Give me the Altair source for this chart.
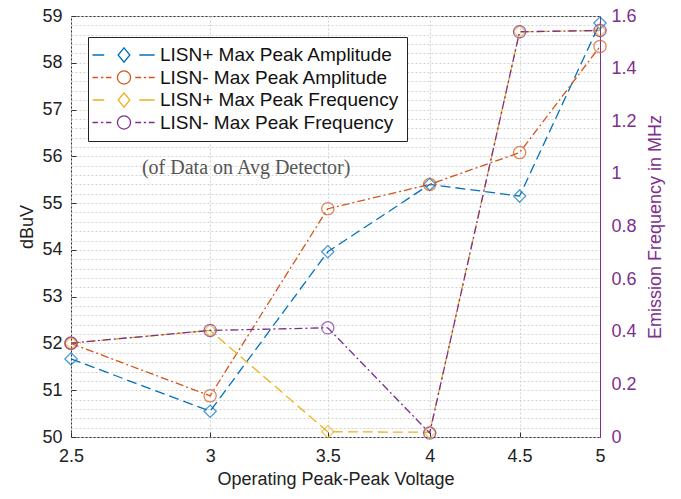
import altair as alt
import pandas as pd

# ---------------- data ----------------
voltage = [2.5, 3.0, 3.5, 4.0, 4.5, 5.0]
lisn_plus_amplitude = [51.67, 50.55, 53.96, 55.40, 55.15, 58.85]
lisn_minus_amplitude = [52.00, 50.88, 54.88, 55.40, 56.08, 58.35]
lisn_plus_frequency = [0.357, 0.405, 0.020, 0.018, 1.540, 1.545]
lisn_minus_frequency = [0.357, 0.405, 0.415, 0.015, 1.540, 1.545]

series_names = [
    "LISN+ Max Peak Amplitude",
    "LISN- Max Peak Amplitude",
    "LISN+ Max Peak Frequency",
    "LISN- Max Peak Frequency",
]
series_colors = ["#0072BD", "#D95319", "#EDB120", "#7E2F8E"]

# marker / dash styles (listed in their own order so these scales stay out of the legend)
shape_order = [series_names[1], series_names[0], series_names[3], series_names[2]]
shape_range = ["circle", "diamond", "circle", "diamond"]
dash_order = [series_names[2], series_names[3], series_names[0], series_names[1]]
dash_range = [[10, 5], [8, 3, 2, 3], [10, 5], [8, 3, 2, 3]]

x_ticks = [2.5, 3, 3.5, 4, 4.5, 5]
left_grid = [round(50 + 0.2 * i, 1) for i in range(46)]
right_ticks = [0, 0.2, 0.4, 0.6, 0.8, 1.0, 1.2, 1.4, 1.6]

annotation_text = ["(of Data on Avg Detector)"]
annotation_x = [3.145]
annotation_y = [55.75]

# ---------------- tables ----------------
amp_df = pd.DataFrame({
    "voltage": voltage * 2,
    "value": lisn_plus_amplitude + lisn_minus_amplitude,
    "series": [series_names[0]] * 6 + [series_names[1]] * 6,
})
freq_df = pd.DataFrame({
    "voltage": voltage * 2,
    "value": lisn_plus_frequency + lisn_minus_frequency,
    "series": [series_names[2]] * 6 + [series_names[3]] * 6,
})
ann_df = pd.DataFrame({"voltage": annotation_x, "value": annotation_y, "label": annotation_text})

GRID = "#d2d2d2"
PURPLE = "#7E2F8E"
INT_TEST = "abs(datum.value - round(datum.value)) < 0.001"

x_enc = alt.X(
    "voltage:Q",
    scale=alt.Scale(type="log", domain=[2.5, 5], nice=False),
    axis=alt.Axis(values=x_ticks, format="~g", title="Operating Peak-Peak Voltage",
                  grid=True, gridDash=[2, 2], gridColor=GRID, labelFlush=False,
                  offset=-5, ticks=True, tickSize=5, tickColor="#333", domain=False,
                  labelPadding=10, titlePadding=5),
)
y_left = alt.Y(
    "value:Q",
    scale=alt.Scale(domain=[50, 59], nice=False, zero=False),
    axis=alt.Axis(values=left_grid, format="~g",
                  labelExpr=INT_TEST + " ? datum.label : ''",
                  title="dBuV", grid=True, gridDash=[2, 2], gridColor=GRID,
                  offset=-5, ticks=True, tickSize=5, domain=False,
                  tickColor={"condition": {"test": INT_TEST, "value": "#333"},
                             "value": "transparent"},
                  labelPadding=9, titlePadding=5, labelOverlap=False),
)
y_right = alt.Y(
    "value:Q",
    scale=alt.Scale(domain=[0, 1.6], nice=False, zero=False),
    axis=alt.Axis(orient="right", values=right_ticks, format="~g",
                  title="Emission Frequency in MHz", titleAngle=270, titleBaseline="top",
                  grid=False, ticks=False, labelPadding=11, titlePadding=10,
                  labelColor=PURPLE, titleColor=PURPLE, domainColor=PURPLE),
)

# legend glyphs "- <> -" and "-.-O-.-" (path unit = 9 px with symbol size 324)
dash_leg = ("M-3.5,0L-2.2,0M1.7,0L3.4,0"
            "M0,-0.8L0.65,0L0,0.8L-0.65,0Z")
dashdot_leg = ("M-3.5,0L-2.9,0M-2.55,0L-2.3,0M-2.0,0L-1.4,0"
               "M0.73,0A0.73,0.73 0 1,1 -0.73,0A0.73,0.73 0 1,1 0.73,0"
               "M1.25,0L1.9,0M2.2,0L2.45,0M2.75,0L3.4,0")
shape_expr = "indexof(datum.value, '+') >= 0 ? '%s' : '%s'" % (dash_leg, dashdot_leg)

legend = alt.Legend(
    title=None, orient="none", legendX=17, legendY=21, direction="vertical",
    symbolType=alt.ExprRef(expr=shape_expr),
    symbolSize=324, symbolStrokeWidth=1.3, symbolFillColor="transparent", symbolOpacity=1,
    symbolOffset=18, labelOffset=26,
    labelFont="Liberation Sans", labelFontSize=19, labelColor="#111",
    labelLimit=400, rowPadding=2.5, padding=8,
    strokeColor="#222", fillColor="white",
)

color_scale = alt.Scale(domain=series_names, range=series_colors)
color_leg = alt.Color("series:N", scale=color_scale, legend=legend)
color_enc = alt.Color("series:N", scale=color_scale, legend=None)
dash_enc = alt.StrokeDash("series:N", scale=alt.Scale(domain=dash_order, range=dash_range),
                          legend=None)
shape_enc = alt.Shape("series:N", scale=alt.Scale(domain=shape_order, range=shape_range),
                      legend=None)

legend_layer = alt.Chart(amp_df).mark_point(opacity=0, filled=False).encode(
    x=x_enc, y=y_left, color=color_leg)
amp_lines = alt.Chart(amp_df).mark_line(strokeWidth=1.3).encode(
    x=x_enc, y=y_left, color=color_enc, strokeDash=dash_enc, detail="series:N")
amp_pts = alt.Chart(amp_df).mark_point(filled=False, size=150, strokeWidth=1.3).encode(
    x=x_enc, y=y_left, color=color_enc, shape=shape_enc)
ann = alt.Chart(ann_df).mark_text(font="Liberation Serif", fontSize=20, color="#555").encode(
    x=x_enc, y=y_left, text="label:N")

freq_lines = alt.Chart(freq_df).mark_line(strokeWidth=1.3).encode(
    x=x_enc, y=y_right, color=color_enc, strokeDash=dash_enc, detail="series:N")
freq_pts = alt.Chart(freq_df).mark_point(filled=False, size=150, strokeWidth=1.3).encode(
    x=x_enc, y=y_right, color=color_enc, shape=shape_enc)

left = alt.layer(legend_layer, ann, amp_lines, amp_pts)
right = alt.layer(freq_lines, freq_pts)

chart = alt.layer(left, right).resolve_scale(y="independent").properties(
    width=529, height=421,
    autosize=alt.AutoSizeParams(type="none"),
    padding={"left": 63, "top": 8, "right": 72, "bottom": 54},
    background="white",
).configure_axis(
    labelFont="Liberation Sans", labelFontSize=18, labelColor="#222",
    titleFont="Liberation Sans", titleFontSize=18, titleFontWeight="normal", titleColor="#222",
).configure_view(stroke="#333", strokeWidth=1)

chart.save("out.html", embed_options={"renderer": "svg", "actions": False})
